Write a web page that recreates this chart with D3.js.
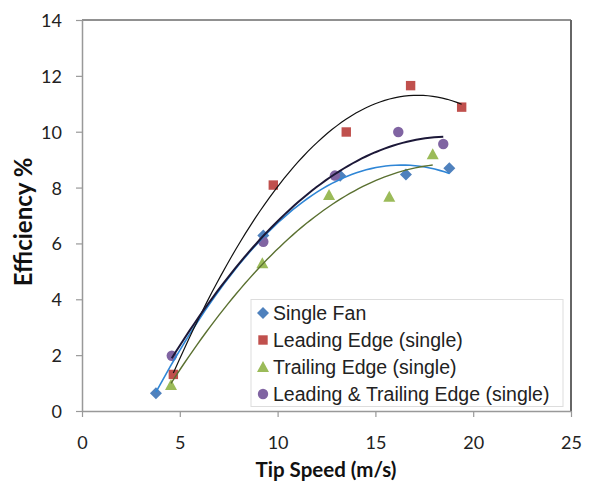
<!DOCTYPE html>
<html>
<head>
<meta charset="utf-8">
<script src="https://cdn.jsdelivr.net/npm/d3@7"></script>
<style>
  body { margin: 0; background: #fff; }
  svg { display: block; }
</style>
</head>
<body>
<div id="chart"></div>
<script>
// data
var singleFanX = [3.78, 9.27, 13.2, 16.56, 18.78];
var singleFanY = [0.64, 6.28, 8.42, 8.47, 8.69];
var leadingX = [4.67, 9.78, 13.51, 16.8, 19.41];
var leadingY = [1.31, 8.09, 9.99, 11.65, 10.88];
var trailingX = [4.55, 9.22, 12.63, 15.71, 17.93];
var trailingY = [0.93, 5.29, 7.73, 7.67, 9.19];
var bothX = [4.59, 9.27, 12.93, 16.17, 18.47];
var bothY = [1.98, 6.06, 8.43, 9.99, 9.56];

var seriesNames = ["Single Fan", "Leading Edge (single)", "Trailing Edge (single)", "Leading & Trailing Edge (single)"];
var xTicks = [0, 5, 10, 15, 20, 25];
var yTicks = [0, 2, 4, 6, 8, 10, 12, 14];

var W = 597, H = 484;
var margin = {top: 20, right: 26, bottom: 73, left: 82};

var svg = d3.select("#chart").append("svg")
    .attr("width", W)
    .attr("height", H);

var x = d3.scaleLinear().domain([0, 25]).range([margin.left, W - margin.right]);
var y = d3.scaleLinear().domain([0, 14]).range([H - margin.bottom, margin.top]);

var series = [
  {name: seriesNames[0], xs: singleFanX, ys: singleFanY, color: "#4F81BD", shape: "diamond", trend: "#2F86D6", tw: 1.6},
  {name: seriesNames[1], xs: leadingX, ys: leadingY, color: "#C0504D", shape: "square", trend: "#111", tw: 1.2},
  {name: seriesNames[2], xs: trailingX, ys: trailingY, color: "#9BBB59", shape: "triangle", trend: "#5A7030", tw: 1.4},
  {name: seriesNames[3], xs: bothX, ys: bothY, color: "#8064A2", shape: "circle", trend: "#1C1838", tw: 2}
];

// frame: top black, right gray
svg.append("line")
    .attr("x1", x(0)).attr("x2", x(25))
    .attr("y1", y(14)).attr("y2", y(14))
    .style("stroke", "#222").style("stroke-width", 1);
svg.append("line")
    .attr("x1", x(25)).attr("x2", x(25))
    .attr("y1", y(14)).attr("y2", y(0))
    .style("stroke", "#666").style("stroke-width", 2);

// axes
var xAxis = svg.append("g")
    .attr("transform", "translate(0," + y(0) + ")")
    .call(d3.axisBottom(x).tickValues(xTicks).tickSize(6).tickPadding(19).tickSizeOuter(0));
var yAxis = svg.append("g")
    .attr("transform", "translate(" + x(0) + ",0)")
    .call(d3.axisLeft(y).tickValues(yTicks).tickSize(6).tickPadding(14).tickSizeOuter(0));

[xAxis, yAxis].forEach(function(a) {
  a.select(".domain").style("stroke", "#999").style("stroke-width", 1.5);
  a.selectAll(".tick line").style("stroke", "#999").style("stroke-width", 1.2);
  a.selectAll(".tick text")
    .style("font-family", "Lato, 'Open Sans', sans-serif")
    .style("font-size", "18px")
    .style("fill", "#222");
});
yAxis.selectAll(".tick text").attr("dy", "0.36em");

// axis titles
svg.append("text")
    .attr("x", 326)
    .attr("y", 477)
    .attr("text-anchor", "middle")
    .style("font-family", "Lato, 'Open Sans', sans-serif")
    .style("font-weight", "bold")
    .style("font-size", "20.5px")
    .style("fill", "#111")
    .text("Tip Speed (m/s)");
svg.append("text")
    .attr("transform", "translate(32,222) rotate(-90)")
    .attr("text-anchor", "middle")
    .style("font-family", "Lato, 'Open Sans', sans-serif")
    .style("font-weight", "bold")
    .style("font-size", "24px")
    .style("fill", "#111")
    .text("Efficiency %");

// quadratic least-squares trendline, like Excel's poly(2)
function polyFit(xs, ys) {
  var n = xs.length, s = [0, 0, 0, 0, 0], t = [0, 0, 0];
  for (var i = 0; i < n; i++) {
    var p = 1;
    for (var k = 0; k < 5; k++) { s[k] += p; if (k < 3) t[k] += p * ys[i]; p *= xs[i]; }
  }
  var A = [[s[0], s[1], s[2], t[0]], [s[1], s[2], s[3], t[1]], [s[2], s[3], s[4], t[2]]];
  for (var c = 0; c < 3; c++) {
    for (var r = c + 1; r < 3; r++) {
      var f = A[r][c] / A[c][c];
      for (var j = c; j < 4; j++) A[r][j] -= f * A[c][j];
    }
  }
  var b = [0, 0, 0];
  for (var r2 = 2; r2 >= 0; r2--) {
    var v = A[r2][3];
    for (var j2 = r2 + 1; j2 < 3; j2++) v -= A[r2][j2] * b[j2];
    b[r2] = v / A[r2][r2];
  }
  return function(xv) { return b[0] + b[1] * xv + b[2] * xv * xv; };
}

var line = d3.line().x(function(d) { return x(d[0]); }).y(function(d) { return y(d[1]); });

function marker(g, shape, color, cx, cy) {
  if (shape === "diamond") {
    g.append("path").attr("d", "M0,-6L6,0L0,6L-6,0Z")
      .attr("transform", "translate(" + cx + "," + cy + ")").style("fill", color);
  } else if (shape === "square") {
    g.append("rect").attr("x", cx - 4.7).attr("y", cy - 4.7)
      .attr("width", 9.4).attr("height", 9.4).style("fill", color);
  } else if (shape === "triangle") {
    g.append("path").attr("d", "M0,-6L6,5L-6,5Z")
      .attr("transform", "translate(" + cx + "," + cy + ")").style("fill", color);
  } else {
    g.append("circle").attr("cx", cx).attr("cy", cy).attr("r", 5.2).style("fill", color);
  }
}

// points first, trendlines on top
var pts = svg.append("g");
series.forEach(function(s) {
  s.xs.forEach(function(xv, i) { marker(pts, s.shape, s.color, x(xv), y(s.ys[i])); });
});

var trends = svg.append("g");
series.forEach(function(s) {
  var f = polyFit(s.xs, s.ys);
  var x0 = d3.min(s.xs), x1 = d3.max(s.xs);
  var data = d3.range(0, 61).map(function(i) { var xv = x0 + (x1 - x0) * i / 60; return [xv, f(xv)]; });
  trends.append("path")
    .attr("d", line(data))
    .style("fill", "none")
    .style("stroke", s.trend)
    .style("stroke-width", s.tw);
});

// legend
var lg = svg.append("g");
lg.append("rect")
    .attr("x", 251).attr("y", 299.5)
    .attr("width", 312).attr("height", 107)
    .style("fill", "#fff")
    .style("stroke", "#ddd");
series.forEach(function(s, i) {
  var cy = 313 + i * 27;
  marker(lg, s.shape, s.color, 263, cy);
  lg.append("text")
    .attr("x", 273).attr("y", cy)
    .attr("dy", "0.35em")
    .style("font-family", "'Liberation Sans', Arial, sans-serif")
    .style("font-size", "19.5px")
    .style("fill", "#222")
    .text(s.name);
});
</script>
</body>
</html>
